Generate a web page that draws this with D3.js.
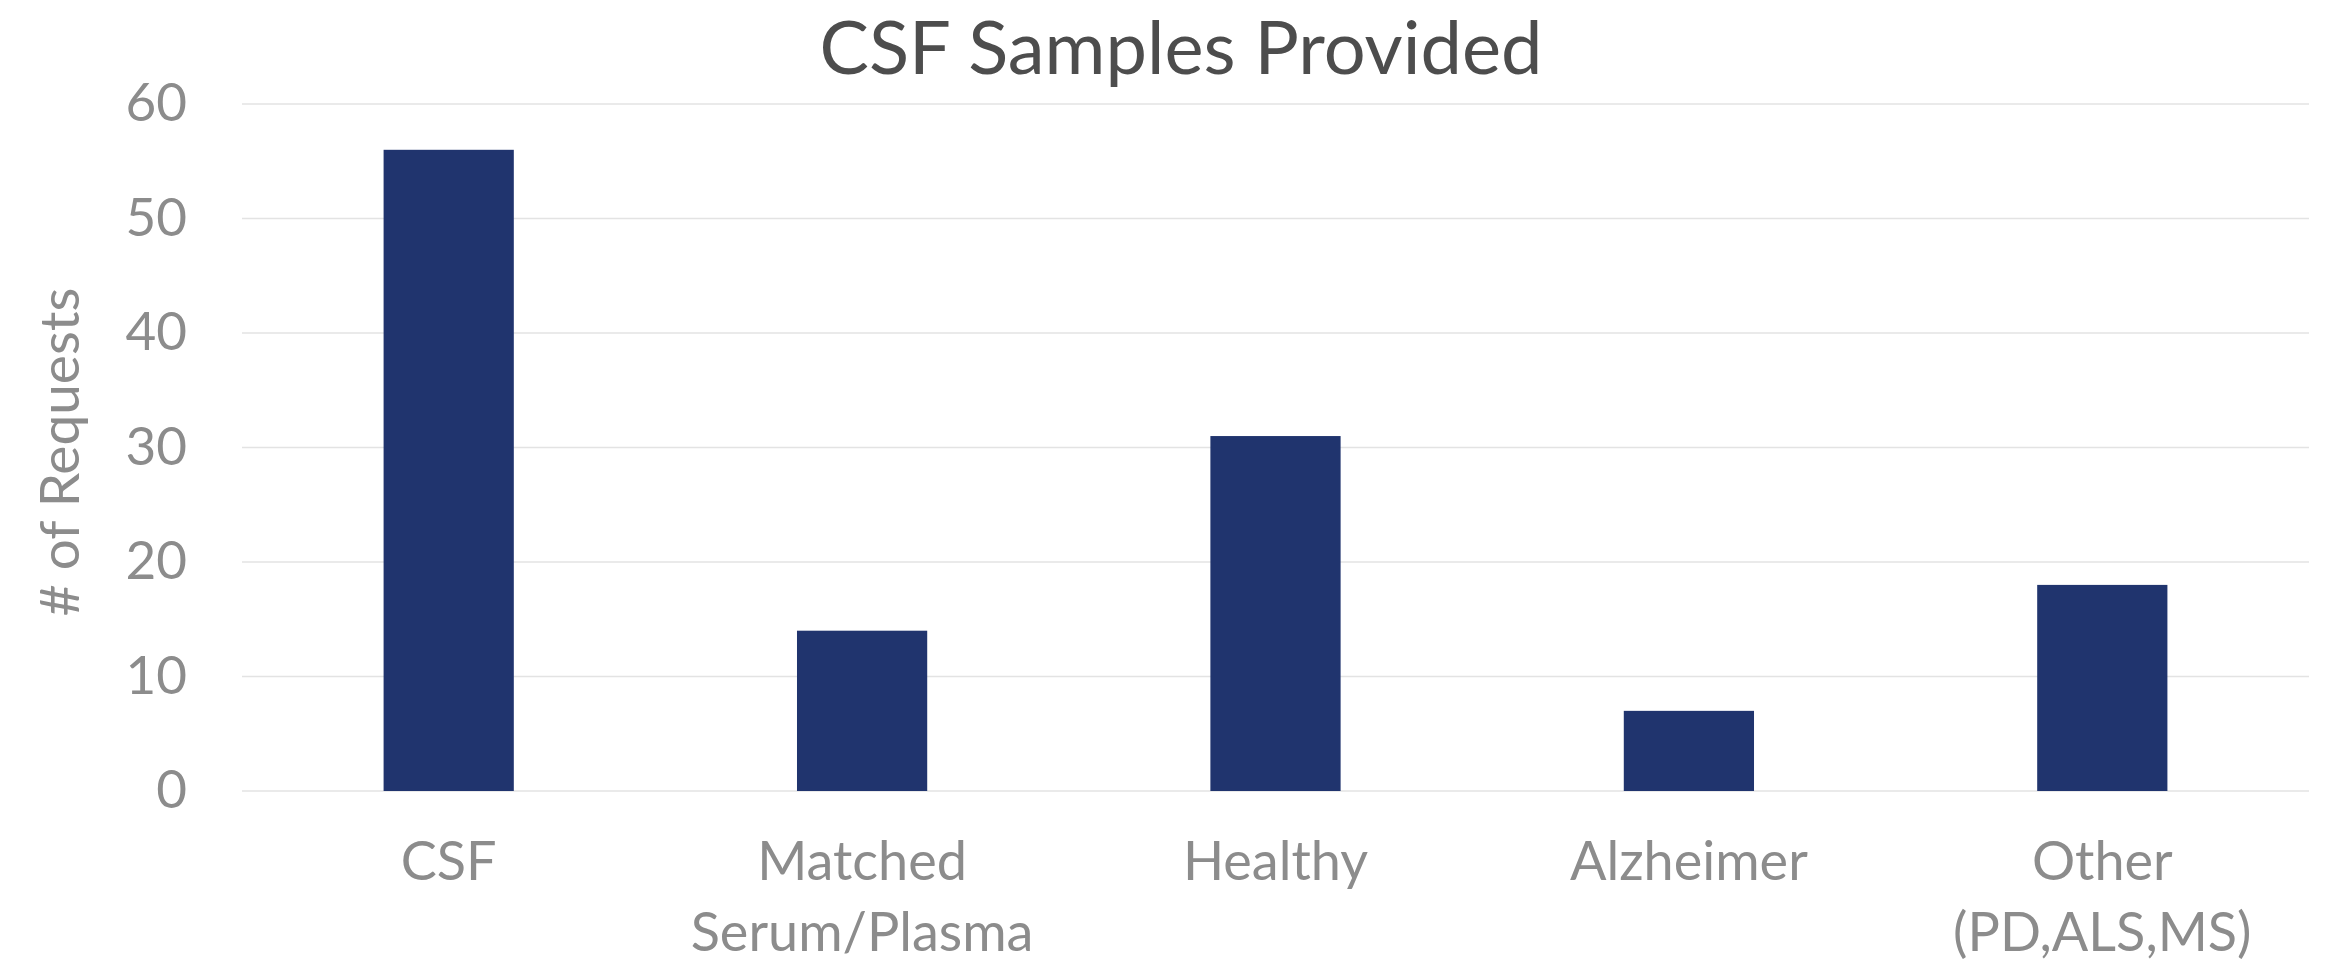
<!DOCTYPE html>
<html>
<head>
<meta charset="utf-8">
<script src="https://cdn.jsdelivr.net/npm/d3@7"></script>
<style>
  body { margin: 0; background: #fff; }
  text { font-family: Lato, "Open Sans", sans-serif; }
</style>
</head>
<body>
<div id="chart"></div>
<script>
// chart data
const categories = ["CSF", "Matched\nSerum/Plasma", "Healthy", "Alzheimer", "Other\n(PD,ALS,MS)"];
const requests = [56, 14, 31, 7, 18];
const yTicks = [0, 10, 20, 30, 40, 50, 60];
const chartTitle = "CSF Samples Provided";
const yTitle = "# of Requests";

const width = 2330, height = 962;
const margin = {top: 104, right: 21, bottom: 171, left: 242};

const svg = d3.select("#chart")
  .append("svg")
    .attr("width", width)
    .attr("height", height);

const x = d3.scaleBand()
  .domain(categories)
  .range([margin.left, width - margin.right])
  .paddingInner(0.685)
  .paddingOuter(0.3425);

const y = d3.scaleLinear()
  .domain([0, 60])
  .range([height - margin.bottom, margin.top]);

// gridlines
svg.append("g")
  .selectAll("line")
  .data(yTicks)
  .enter().append("line")
    .attr("x1", margin.left)
    .attr("x2", width - margin.right)
    .attr("y1", d => y(d))
    .attr("y2", d => y(d))
    .style("stroke", "#e3e3e3")
    .style("stroke-width", 1.5);

// bars
svg.append("g")
  .selectAll("rect")
  .data(requests)
  .enter().append("rect")
    .attr("x", (d, i) => x(categories[i]))
    .attr("width", x.bandwidth())
    .attr("y", d => y(d))
    .attr("height", d => y(0) - y(d))
    .attr("fill", "#20346e");

// y axis labels
const yAxis = svg.append("g")
  .attr("transform", `translate(${margin.left - 55},0)`)
  .call(d3.axisLeft(y).tickValues(yTicks).tickSize(0).tickPadding(0));
yAxis.select(".domain").remove();
yAxis.selectAll("text")
  .style("font-family", "Lato, 'Open Sans', sans-serif")
  .style("font-size", "53px")
  .attr("fill", "#8c8c8c");

// x axis labels (two lines where needed)
const xLabels = svg.append("g")
  .selectAll("text")
  .data(categories)
  .enter().append("text")
    .attr("x", d => x(d) + x.bandwidth() / 2)
    .attr("y", 880)
    .attr("text-anchor", "middle")
    .style("font-size", "54px")
    .attr("fill", "#8c8c8c");
xLabels.selectAll("tspan")
  .data(d => d.split("\n"))
  .enter().append("tspan")
    .attr("x", function() { return this.parentNode.getAttribute("x"); })
    .attr("dy", (d, i) => i == 0 ? 0 : 71)
    .text(d => d);

// titles
svg.append("text")
  .attr("x", 1181)
  .attr("y", 74)
  .attr("text-anchor", "middle")
  .style("font-size", "74px")
  .attr("fill", "#4d4d4d")
  .text(chartTitle);

svg.append("text")
  .attr("transform", "translate(79,452) rotate(-90)")
  .attr("text-anchor", "middle")
  .style("font-size", "55px")
  .attr("fill", "#8c8c8c")
  .text(yTitle);
</script>
</body>
</html>
